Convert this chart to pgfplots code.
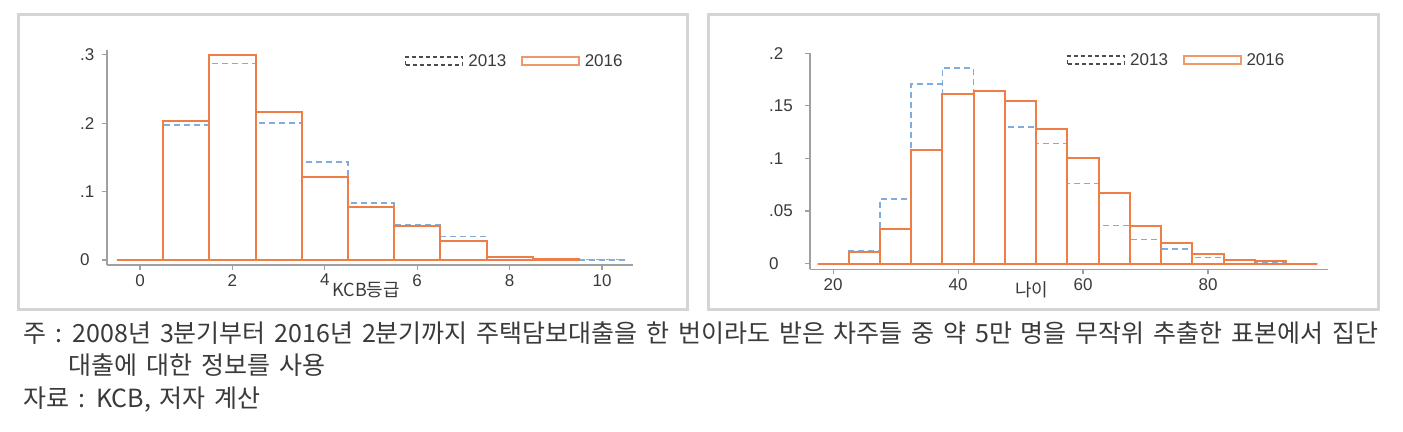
\documentclass[border=0pt]{standalone}
\usepackage{fontspec}
\setmainfont{Liberation Sans}
\newfontfamily\kr{Noto Sans CJK KR}
\newfontfamily\krl{Noto Sans CJK KR}
\usepackage{pgfplots}
\pgfplotsset{compat=1.18}
\definecolor{c13}{HTML}{7FAEDC}
\definecolor{c16}{HTML}{EE7E45}
\definecolor{axg}{HTML}{A0A0A0}
\definecolor{txt}{HTML}{3A3A3A}
\definecolor{frm}{HTML}{D5D5D5}
\pgfplotsset{
 hist/.style={
  scale only axis,
  axis x line*=bottom, axis y line*=left,
  axis line style={axg, line width=1.5bp},
  tick style={axg, line width=1.2bp},
  tick align=outside, major tick length=5bp,
  /pgf/number format/assume math mode=true,
  tick label style={txt, inner sep=0pt, font=\fontsize{17bp}{20bp}\selectfont},
  xticklabel style={yshift=-4bp},
  legend style={draw=none, fill=none, legend columns=2, anchor=west,
    font=\fontsize{17bp}{20bp}\selectfont, text=txt,
    /tikz/every odd column/.append style={column sep=3bp},
    /tikz/every even column/.append style={column sep=13bp}},
  clip=false,
 },
 s13/.style={ybar interval, draw=c13, line width=1.5bp, dash pattern=on 6bp off 4bp, fill=none},
 s16/.style={ybar interval, draw=c16, line width=2bp, fill=none},
 leg13/.style={legend image code/.code={\draw[black!70, line width=1.2bp, dash pattern=on 4bp off 3bp] (0bp,-4bp) rectangle (57bp,4bp);}},
 leg16/.style={legend image code/.code={\draw[c16!80, line width=1.5bp] (0bp,-4bp) rectangle (57bp,4bp);}},
}
\newcommand\captfont{\fontsize{25bp}{28bp}\kr\spaceskip=9bp plus 40bp minus 3bp\relax}
\begin{document}
\begin{tikzpicture}
\useasboundingbox (0,0) rectangle (1403bp,432bp);
\draw[frm, line width=3bp] (18bp,417bp) rectangle (687bp,122bp);
\draw[frm, line width=3bp] (708bp,417bp) rectangle (1378bp,122bp);

% Left: KCB grade
\begin{axis}[hist,
  at={(107bp,167bp)}, anchor=south west,
  width=526bp, height=215bp,
  xmin=-0.714, xmax=10.67, ymin=-0.0073, ymax=0.307,
  xtick={0,2,4,6,8,10},
  ytick={0,0.1,0.2,0.3}, yticklabels={0,.1,.2,.3},
  yticklabel style={anchor=west, xshift=-22bp},
  xlabel={\fontsize{18bp}{20bp}\krl KCB등급},
  xlabel style={at={(axis description cs:0.428,-0.116)}, anchor=west, inner sep=0pt, text=txt},
  legend style={at={(axis description cs:0.561,0.949)}},
]
\addplot[s13, forget plot] coordinates {(-0.5,0) (0.5,0.197) (1.5,0.287) (2.5,0.200) (3.5,0.143) (4.5,0.083) (5.5,0.051) (6.5,0.034) (7.5,0.005) (8.5,0.001) (9.5,0.0007) (10.5,0.0007)};
\addplot[s16, forget plot] coordinates {(-0.5,0) (0.5,0.203) (1.5,0.299) (2.5,0.217) (3.5,0.122) (4.5,0.077) (5.5,0.050) (6.5,0.028) (7.5,0.004) (8.5,0.001) (9.5,0.001)};
\addlegendimage{leg13}\addlegendentry{2013}
\addlegendimage{leg16}\addlegendentry{2016}
\end{axis}

% Right: age
\begin{axis}[hist,
  at={(810bp,162.7bp)}, anchor=south west,
  width=518bp, height=216bp,
  xmin=16.3, xmax=99.2, ymin=-0.0055, ymax=0.2,
  xtick={20,40,60,80},
  ytick={0,0.05,0.1,0.15,0.2}, yticklabels={0,.05,.1,.15,.2},
  yticklabel style={anchor=west, xshift=-36bp},
  xlabel={\fontsize{18bp}{20bp}\krl 나이},
  xlabel style={at={(axis description cs:0.396,-0.096)}, anchor=west, inner sep=0pt, text=txt},
  legend style={at={(axis description cs:0.49,0.969)}},
]
\addplot[s13, forget plot] coordinates {(17.5,0) (22.5,0.0118) (27.5,0.0616) (32.5,0.171) (37.5,0.186) (42.5,0.164) (47.5,0.130) (52.5,0.114) (57.5,0.076) (62.5,0.036) (67.5,0.023) (72.5,0.014) (77.5,0.0057) (82.5,0.0038) (87.5,0.001) (92.5,0) (97.5,0)};
\addplot[s16, forget plot] coordinates {(17.5,0) (22.5,0.0105) (27.5,0.0324) (32.5,0.108) (37.5,0.161) (42.5,0.164) (47.5,0.155) (52.5,0.128) (57.5,0.100) (62.5,0.0667) (67.5,0.0356) (72.5,0.0197) (77.5,0.0089) (82.5,0.003) (87.5,0.002) (92.5,0) (97.5,0)};
\addlegendimage{leg13}\addlegendentry{2013}
\addlegendimage{leg16}\addlegendentry{2016}
\end{axis}

\node[anchor=base west, inner sep=0pt, text=txt] at (23bp,89bp) {\captfont\makebox[1355bp][s]{주 : 2008년 3분기부터 2016년 2분기까지 주택담보대출을 한 번이라도 받은 차주들 중 약 5만 명을 무작위 추출한 표본에서 집단}};
\node[anchor=base west, inner sep=0pt, text=txt] at (68bp,57bp) {\captfont 대출에 대한 정보를 사용};
\node[anchor=base west, inner sep=0pt, text=txt] at (23bp,25bp) {\captfont 자료 : KCB, 저자 계산};
\end{tikzpicture}
\end{document}
